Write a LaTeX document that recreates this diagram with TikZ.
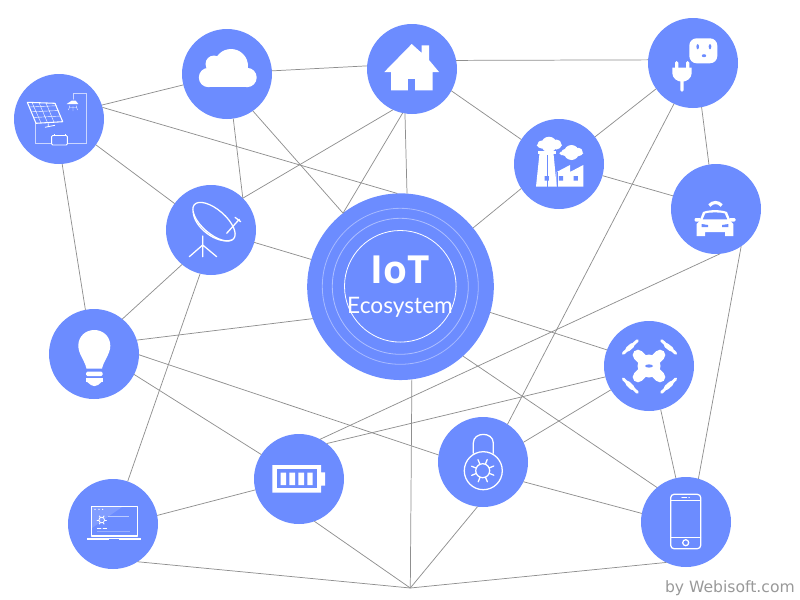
\documentclass[tikz,border=0pt]{standalone}
\usepackage{fontspec}
\newfontfamily\latofont{Lato}
\newfontfamily\opensfont{Open Sans}
\newfontfamily\dejafont{DejaVu Sans}
\definecolor{hub}{HTML}{6C8CFF}
\definecolor{wire}{HTML}{8F8F8F}
\definecolor{credit}{HTML}{999999}
\tikzset{
  device/.style={circle,fill=hub,draw=none,minimum size=67.5pt,inner sep=0pt,outer sep=0pt},
  core/.style={circle,fill=hub,draw=none,minimum size=140pt,inner sep=0pt,outer sep=0pt},
  link/.style={draw=wire,line width=.55pt},
  solid white/.style={fill=white,draw=none},
  cut/.style={fill=hub,draw=none},
  outline/.style={draw=white,line width=.95pt,line join=round,line cap=round},
  thinline/.style={draw=white,line width=.45pt,line cap=round},
  faint/.style={draw=white,line width=.55pt,draw opacity=.55},
  label/.style={inner sep=0pt,outer sep=0pt,text=white,anchor=base},
}
\begin{document}
\begin{tikzpicture}[x=.75pt,y=-.75pt]
\useasboundingbox (0,0) rectangle (800,600);
% nodes
\node[device] (S) at (59,119) {};
\node[device] (C) at (227,74) {};
\node[device] (H) at (412,69) {};
\node[device] (O) at (693,63) {};
\node[device] (F) at (559,164) {};
\node[device] (A) at (716,209) {};
\node[device] (D) at (211,230) {};
\node[core]   (I) at (400.5,286.7) {};
\node[device] (B) at (94,354) {};
\node[device] (R) at (649,366) {};
\node[device] (L) at (483,462) {};
\node[device] (T) at (299,479) {};
\node[device] (P) at (113,524) {};
\node[device] (M) at (686,522) {};
\coordinate (apex) at (410.3,588);
% connectors
\draw[link] (S.18) -- (C.194);
\draw[link] (S.15.6) -- (I.92);
\draw[link] (S.-35) -- (D.144.6);
\draw[link] (S.-86) -- (B.101.5);
\draw[link] (C.4) -- (H.176);
\draw[link] (C.-82.5) -- (D.45);
\draw[link] (C.-55.3) -- (I.128);
\draw[link] (H.245) -- (D.45);
\draw[link] (H.258) -- (I.128);
\draw[link] (H.261) -- (I.86);
\draw[link] (H.-29) -- (F.147.7);
\draw[link] (H.11.5) -- (O.176.6);
\draw[link] (O.215) -- (F.37.3);
\draw[link] (O.-79) -- (A.99.2);
\draw[link] (O.245) -- (L.57.9);
\draw[link] (F.-15.4) -- (A.163);
\draw[link] (F.213.8) -- (I.39.2);
\draw[link] (A.-85) -- (T.62.7);
\draw[link] (A.-56.8) -- (M.74.8);
\draw[link] (D.-16.5) -- (I.163.6);
\draw[link] (D.230) -- (B.51);
\draw[link] (D.256) -- (P.71.7);
\draw[link] (B.18) -- (I.200.3);
\draw[link] (B.-1.3) -- (L.171);
\draw[link] (B.-27) -- (T.147.3);
\draw[link] (I.-16.4) -- (R.159);
\draw[link] (I.-48.8) -- (M.130.6);
\draw[link] (I.-83.9) -- (apex);
\draw[link] (R.194.3) -- (T.52.4);
\draw[link] (R.212.3) -- (L.26);
\draw[link] (R.-75.7) -- (M.103.7);
\draw[link] (L.-26) -- (M.169.7);
\draw[link] (L.263.3) -- (apex);
\draw[link] (T.194) -- (P.11.4);
\draw[link] (T.-70.6) -- (apex);
\draw[link] (P.-57.4) -- (apex);
\draw[link] (M.244) -- (apex);
% core rings and text
\draw[white,line width=.6pt] (400.3,286.3) circle (55.8);
\draw[white,line width=.6pt,draw opacity=.45] (400.3,286.3) circle (68);
\draw[white,line width=.6pt,draw opacity=.4] (400.3,286.3) circle (78);
\node[label,font=\opensfont\bfseries\fontsize{29}{30}\selectfont] (iot) at (400.5,283) {IoT};
\node[label,font=\latofont\fontsize{17}{18}\selectfont] (eco) at (400,313) {Ecosystem};
\node[inner sep=0pt,anchor=base east,text=credit,font=\dejafont\fontsize{11.7}{13}\selectfont] (by) at (795,592) {by Webisoft.com};
% cloud
\fill[solid white] (208.5,67) rectangle (247,87.3);
\fill[solid white] (208.5,77.5) circle (9.7) (247,77.5) circle (9.7) (231,66) circle (17) (214,64) circle (8.5);
% home
\fill[solid white] (421.7,53) -- (421.7,45.3) -- (429,45.3) -- (429,60) -- (439,72) -- (432.7,72) -- (432.7,90.3) -- (391,90.3) -- (391,72) -- (384.3,72) -- (411.7,44) -- cycle;
\fill[cut] (408.3,90.5) rectangle (415,79.3);
% outlet
\fill[solid white,rounded corners=5.5] (689.3,38.3) rectangle (717.3,63.3);
\fill[cut] (697.7,46.7) ellipse (1.3 and 2.6) (710,46.7) ellipse (1.3 and 2.6) (704,55.7) ellipse (2.2 and 1.5);
% plug
\fill[solid white,rounded corners=1.2] (675,61) rectangle (678.3,70);
\fill[solid white,rounded corners=1.2] (686,61) rectangle (689.3,70);
\fill[solid white] (672.3,67.7) -- (691.7,67.7) -- (691.7,73) .. controls (691.7,78) and (687,81.7) .. (682,81.7) .. controls (677,81.7) and (672.3,78) .. (672.3,73) -- cycle;
\fill[solid white,rounded corners=1.2] (680.3,78) rectangle (683.7,91.7);
% factory
\fill[solid white] (539.5,153.3) -- (553.5,153.3) -- (556.7,186.7) -- (536,186.7) -- cycle;
\fill[solid white] (537.7,150.7) rectangle (555.7,153.6);
\fill[solid white] (556.7,186.7) -- (583.3,186.7) -- (583.3,165) -- (570,172) -- (570,165) -- (556.7,172) -- cycle;
\draw[hub,line width=.3pt] (546.7,155) -- (546.7,186.7) (556.7,172) -- (556.7,186.7);
\fill[cut] (544.5,176.1) rectangle (548.9,180.5) (558.8,176.1) rectangle (563.2,180.5) (573.5,176.1) rectangle (577.9,180.5);
\fill[solid white,rounded corners=1.4] (536.7,143.5) rectangle (562,147.3);
\fill[solid white] (549,144.5) circle (7.8) (556.5,144.5) circle (5) (541.5,144.5) circle (4);
\fill[solid white,rounded corners=1.4] (559.3,151.5) rectangle (583.3,155);
\fill[solid white] (571.5,152.5) circle (7.5) (578.5,152) circle (4.2) (565,152.5) circle (3.5);
% car
\draw[white,line width=2.4pt] (709.3,205.5) .. controls (713,201.5) and (718,201.5) .. (721.7,205.5);
\fill[solid white] (699.5,221) -- (703,212) .. controls (709,209.5) and (721,209.5) .. (727,212) -- (730.5,221) -- (733.3,224) -- (733.3,236) -- (725,236) -- (725,232) -- (705,232) -- (705,236) -- (696.7,236) -- (696.7,224) -- cycle;
\fill[solid white,rounded corners=.8] (694.5,218) rectangle (701,221.5) (729,218) rectangle (735.5,221.5);
\fill[cut] (702.8,219.3) -- (705.3,213.5) .. controls (711,212) and (719,212) .. (724.7,213.5) -- (727.2,219.3) -- cycle;
\fill[cut] (701.7,224) -- (708,225) -- (708,227) -- (701.7,227) -- cycle;
\fill[cut] (728.3,224) -- (722,225) -- (722,227) -- (728.3,227) -- cycle;
% dish
\draw[outline,rotate around={-41:(214,221.7)}] (214,221.7) ellipse (26 and 12);
\draw[outline] (193.3,211.7) .. controls (193.3,226.7) and (216.7,245) .. (231.7,240);
\draw[outline] (226.7,233.3) -- (239.3,219.3) (235,217.3) -- (240.7,221.7);
\draw[outline] (202.7,236) -- (202.7,256.7) (202.7,245) -- (189.3,256.7) (202.7,245) -- (216.7,256.7);
% solar
\draw[thinline,draw opacity=.65] (35.7,123.3) -- (35.7,143.3) -- (51.7,143.3) (67.3,143.3) -- (86.7,143.3) -- (86.7,93.3) -- (73.3,93.3) -- (73.3,99.3);
\draw[white,line width=.8pt,line join=round] (27.3,102.3) -- (55,103.3) -- (62.7,121.7) -- (36,123.3) -- cycle;
\draw[white,line width=.3pt] (32,102.5) -- (41,122.9) (39,102.7) -- (47.5,122.6) (46,102.9) -- (54,122.2)
  (29.5,107) -- (57,105.7) (31.3,111.8) -- (59,110.5) (33.5,117.5) -- (61,116);
\draw[white,line width=.6pt] (48.3,123.3) -- (48.3,126) (45,127.3) -- (55,125.3);
\draw[white,line width=.7pt,rounded corners=.8] (51.7,135.5) rectangle (67.3,145);
\draw[white,line width=.7pt] (54,135.5) -- (54,134) (65,135.5) -- (65,134);
\fill[solid white] (71.7,100.7) -- (75.7,100.7) -- (78.3,104) -- (66.7,104) -- cycle;
\draw[white,line width=.3pt] (70,105.5) -- (68.5,110) (73,106) -- (73,111) (76,105.5) -- (77.5,110) (70,107.5) -- (76,107.5);
% bulb
\fill[solid white] (86.5,368.5) .. controls (84.5,360) and (78.3,354) .. (78.3,345.7) .. controls (78.3,336) and (86,330) .. (94.3,330) .. controls (102.6,330) and (110.3,336) .. (110.3,345.7) .. controls (110.3,354) and (104,360) .. (102,368.5) -- cycle;
\fill[solid white,rounded corners=1] (86,371.7) rectangle (102.7,376);
\fill[solid white] (86,378.3) rectangle (102.7,381.7);
\fill[solid white] (86,381) -- (102.7,381) -- (98,385) .. controls (96,386.5) and (92.5,386.5) .. (91,385) -- cycle;
% drone
\draw[white,line width=8pt,line cap=round] (638,355) -- (660,377) (660,355) -- (638,377);
\fill[solid white] (649,366) circle (11.5);
\fill[hub] (649,366) ellipse (4 and 1.6);
\draw[white,line width=2.2pt,line cap=round] (623.3,353.3) -- (637.3,340.7) (661.7,340.7) -- (675.7,353.3) (623.3,379) -- (637.3,392.3) (661.7,392.3) -- (675.7,379);
\draw[white,line width=3.6pt,line cap=round] (628,349) -- (632,345.5) (666.5,345.5) -- (671,349) (628,383.5) -- (632,387.5) (666.5,387.5) -- (671,383.5);
% lock
\draw[outline] (473.3,453.3) -- (473.3,443) .. controls (473.3,431.5) and (493.3,431.5) .. (493.3,443) -- (493.3,453.3);
\draw[outline] (483.3,470.7) circle (19);
\draw[outline] (482.7,470.7) circle (7);
\foreach \ang in {22,67,112,157,202,247,292,337}{
  \draw[outline] ([shift={(\ang:7)}]482.7,470.7) -- ([shift={(\ang:12)}]482.7,470.7);
}
% phone
\draw[outline,rounded corners=2.5] (670.7,494.3) rectangle (700.7,548.7);
\draw[outline,line width=.6pt] (670.7,500.7) -- (700.7,500.7) (670.7,537.3) -- (700.7,537.3) (681.7,497.7) -- (686.7,497.7) (688.7,497.7) -- (689.5,497.7);
\draw[outline] (685.7,542.7) circle (3);
% battery
\fill[solid white] (272.3,465) rectangle (321,492.7) (321,472.3) rectangle (325,485.7);
\fill[cut] (276.7,469.3) rectangle (316.7,488.3);
\fill[solid white] (280.7,472.7) rectangle (286,485) (289.3,472.7) rectangle (295,485) (298.3,472.7) rectangle (304,485) (307.3,472.7) rectangle (312.7,485);
% laptop
\fill[white,fill opacity=.15] (92,507) -- (122,507) -- (92,528) -- cycle;
\draw[outline] (91.7,506.7) rectangle (137.3,536);
\fill[solid white] (87.3,538) rectangle (141,540.3);
\fill[cut] (109,538.6) rectangle (119,539.8);
\draw[outline,line width=.6pt] (101.7,520) circle (2.8);
\foreach \ang in {0,60,120,180,240,300}{
  \draw[outline,line width=.7pt] ([shift={(\ang:3)}]101.7,520) -- ([shift={(\ang:4.6)}]101.7,520);
}
\fill[solid white] (95,509.3) circle (.7) (99,509.3) circle (.7) (102.7,509.3) circle (.7);
\draw[faint] (108.3,516) -- (129.3,516);
\draw[thinline] (97.3,528.3) -- (101,528.3) (103,528.3) -- (106.7,528.3);
\draw[white,line width=.4pt,draw opacity=.3] (97,531.7) -- (130,531.7);
\end{tikzpicture}
\end{document}
